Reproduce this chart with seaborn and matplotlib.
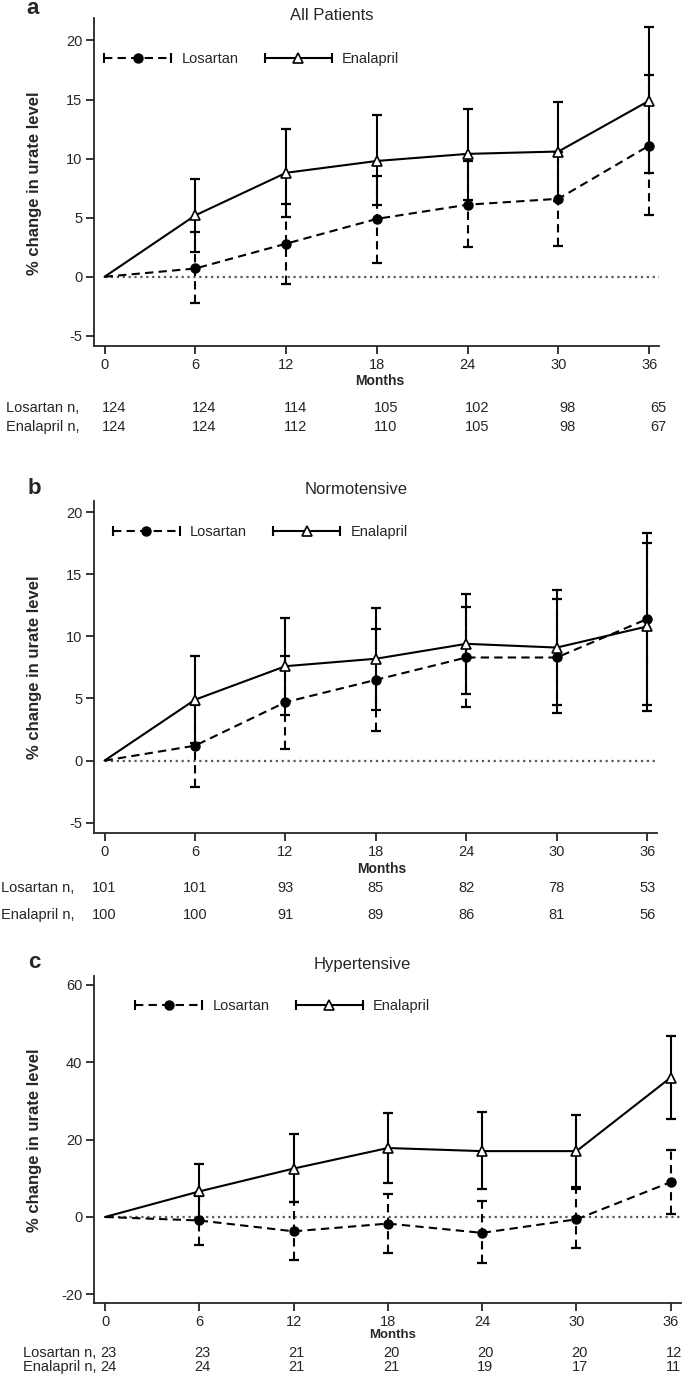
import matplotlib
matplotlib.use('Agg')
import matplotlib.pyplot as plt
import matplotlib.transforms as mtransforms
from matplotlib.lines import Line2D
from matplotlib.legend_handler import HandlerLine2D
import seaborn as sns

months = [0, 6, 12, 18, 24, 30, 36]

# panel a - all patients
a_los_mean = [0, 0.7, 2.8, 4.9, 6.1, 6.6, 11.1]
a_los_lo = [0, -2.2, -0.6, 1.2, 2.5, 2.6, 5.2]
a_los_hi = [0, 3.8, 6.2, 8.5, 9.8, 10.6, 17.1]
a_ena_mean = [0, 5.2, 8.8, 9.8, 10.4, 10.6, 14.9]
a_ena_lo = [0, 2.1, 5.1, 6.1, 6.5, 6.4, 8.8]
a_ena_hi = [0, 8.3, 12.5, 13.7, 14.2, 14.8, 21.1]
a_los_n = [124, 124, 114, 105, 102, 98, 65]
a_ena_n = [124, 124, 112, 110, 105, 98, 67]

# panel b - normotensive
b_los_mean = [0, 1.2, 4.7, 6.5, 8.3, 8.3, 11.4]
b_los_lo = [0, -2.1, 0.9, 2.4, 4.3, 3.8, 4.5]
b_los_hi = [0, 4.5, 8.4, 10.6, 12.4, 13.0, 18.3]
b_ena_mean = [0, 4.9, 7.6, 8.2, 9.4, 9.1, 10.8]
b_ena_lo = [0, 1.4, 3.7, 4.1, 5.4, 4.5, 4.0]
b_ena_hi = [0, 8.4, 11.5, 12.3, 13.4, 13.7, 17.5]
b_los_n = [101, 101, 93, 85, 82, 78, 53]
b_ena_n = [100, 100, 91, 89, 86, 81, 56]

# panel c - hypertensive
c_los_mean = [0, -0.9, -3.7, -1.7, -4.1, -0.6, 9.0]
c_los_lo = [0, -7.3, -11.2, -9.4, -12.0, -8.1, 0.9]
c_los_hi = [0, 5.5, 3.9, 5.9, 4.0, 7.1, 17.2]
c_ena_mean = [0, 6.6, 12.5, 17.8, 17.0, 17.0, 36.0]
c_ena_lo = [0, -0.5, 3.8, 8.7, 7.2, 7.8, 25.3]
c_ena_hi = [0, 13.6, 21.3, 26.8, 27.1, 26.2, 46.6]
c_los_n = [23, 23, 21, 20, 20, 20, 12]
c_ena_n = [24, 24, 21, 21, 19, 17, 11]

W, H = 682, 1374
DASH = (0, (4, 2.5))

sns.set_style('ticks')
plt.rcParams['font.family'] = ['Liberation Sans Narrow', 'Liberation Sans', 'DejaVu Sans']
plt.rcParams['axes.unicode_minus'] = False
plt.rcParams['axes.linewidth'] = 1.3

fig = plt.figure(figsize=(W / 100, H / 100), dpi=100)


def px_axes(l, t, r, b):
    return fig.add_axes([l / W, 1 - b / H, (r - l) / W, (b - t) / H])


def ftext(x, y, s, **kw):
    fig.text(x / W, 1 - y / H, s, **kw)


def draw_panel(ax, los_mean, los_lo, los_hi, ena_mean, ena_lo, ena_hi, ylim, yticks):
    # error bars (no bar at baseline)
    for mean, lo, hi, ls in [(los_mean, los_lo, los_hi, DASH), (ena_mean, ena_lo, ena_hi, '-')]:
        yerr = [[m - l for m, l in zip(mean[1:], lo[1:])], [h - m for m, h in zip(mean[1:], hi[1:])]]
        eb = ax.errorbar(months[1:], mean[1:], yerr=yerr, fmt='none', ecolor='black',
                         elinewidth=1.5, capsize=3.5, capthick=1.6, zorder=2)
        eb[2][0].set_linestyle(ls)

    ax.axhline(0, xmin=0.02, color='0.35', ls=':', lw=1.6, zorder=1)
    mk = list(range(1, len(months)))
    sns.lineplot(x=months, y=los_mean, ax=ax, color='black', lw=1.5, ls=DASH,
                 marker='o', ms=6.5, mec='black', mfc='black', mew=1, markevery=mk,
                 errorbar=None, zorder=3)
    sns.lineplot(x=months, y=ena_mean, ax=ax, color='black', lw=1.5,
                 marker='^', ms=7, mec='black', mfc='white', mew=1.2, markevery=mk,
                 errorbar=None, zorder=3)

    ax.set_xlim(-0.7, 36.65)
    ax.set_ylim(*ylim)
    ax.set_xticks(months)
    ax.set_yticks(yticks)
    ax.tick_params(direction='out', length=6, width=1.3, labelsize=10.5, pad=2.5)
    ax.set_xlabel('')
    ax.set_ylabel('')
    sns.despine(ax=ax)


def add_legend(ax, x, y):
    los_line = Line2D([], [], color='black', ls=DASH, lw=1.5, marker='o', ms=6.5, mfc='black')
    los_caps = Line2D([], [], color='black', ls='none', marker='|', ms=7, mew=1.5)
    ena_line = Line2D([], [], color='black', ls='-', lw=1.5, marker='^', ms=6.5, mfc='white', mew=1.2)
    ena_caps = Line2D([], [], color='black', ls='none', marker='|', ms=7, mew=1.5)
    hm = {los_caps: HandlerLine2D(numpoints=2, marker_pad=0),
          ena_caps: HandlerLine2D(numpoints=2, marker_pad=0)}
    ax.legend([(los_line, los_caps), (ena_line, ena_caps)], ['Losartan', 'Enalapril'],
              handler_map=hm, numpoints=1, ncol=2, frameon=False, loc='center left',
              bbox_to_anchor=(x, y), borderpad=0, borderaxespad=0, fontsize=10.5,
              handlelength=4.6, handletextpad=0.7, columnspacing=1.8)


def add_counts(ax, los_n, ena_n, y_los, y_ena, xoff, lab_x, lab_ha):
    trans = mtransforms.blended_transform_factory(ax.transData, fig.transFigure)
    for m, nl, ne in zip(months, los_n, ena_n):
        ax.text(m + xoff, 1 - y_los / H, str(nl), transform=trans, ha='center', va='center', fontsize=10.5)
        ax.text(m + xoff, 1 - y_ena / H, str(ne), transform=trans, ha='center', va='center', fontsize=10.5)
    ftext(lab_x, y_los, 'Losartan n,', ha=lab_ha, va='center', fontsize=10.5)
    ftext(lab_x, y_ena, 'Enalapril n,', ha=lab_ha, va='center', fontsize=10.5)


# panel a
ax_a = px_axes(94, 18, 659, 346)
draw_panel(ax_a, a_los_mean, a_los_lo, a_los_hi, a_ena_mean, a_ena_lo, a_ena_hi,
           (-5.86, 21.9), [-5, 0, 5, 10, 15, 20])
add_legend(ax_a, 0.018, 0.875)
add_counts(ax_a, a_los_n, a_ena_n, 408, 427, 0.6, 6, 'left')
ftext(332, 15, 'All Patients', ha='center', va='center', fontsize=12)
ftext(33, 8, 'a', ha='center', va='center', fontsize=16, fontweight='bold')
ftext(35, 183, '% change in urate level', ha='center', va='center', rotation=90,
      fontsize=12, fontweight='bold')
ftext(380, 381, 'Months', ha='center', va='center', fontsize=10, fontweight='bold')

# panel b
ax_b = px_axes(94, 501, 657, 833)
draw_panel(ax_b, b_los_mean, b_los_lo, b_los_hi, b_ena_mean, b_ena_lo, b_ena_hi,
           (-5.83, 20.9), [-5, 0, 5, 10, 15, 20])
add_legend(ax_b, 0.033, 0.907)
add_counts(ax_b, b_los_n, b_ena_n, 888, 915, 0.0, 1, 'left')
ftext(356, 490, 'Normotensive', ha='center', va='center', fontsize=12)
ftext(34, 488, 'b', ha='center', va='center', fontsize=16, fontweight='bold')
ftext(35, 667, '% change in urate level', ha='center', va='center', rotation=90,
      fontsize=12, fontweight='bold')
ftext(382, 869, 'Months', ha='center', va='center', fontsize=10, fontweight='bold')

# panel c
ax_c = px_axes(94, 976, 681, 1303)
draw_panel(ax_c, c_los_mean, c_los_lo, c_los_hi, c_ena_mean, c_ena_lo, c_ena_hi,
           (-22.2, 62.2), [-20, 0, 20, 40, 60])
add_legend(ax_c, 0.07, 0.908)
add_counts(ax_c, c_los_n, c_ena_n, 1353, 1367, 0.2, 96, 'right')
ftext(362, 965, 'Hypertensive', ha='center', va='center', fontsize=12)
ftext(34, 963, 'c', ha='center', va='center', fontsize=16, fontweight='bold')
ftext(35, 1140, '% change in urate level', ha='center', va='center', rotation=90,
      fontsize=12, fontweight='bold')
ftext(393, 1335, 'Months', ha='center', va='center', fontsize=9.5, fontweight='bold')

fig.savefig('out.png', dpi=100)
